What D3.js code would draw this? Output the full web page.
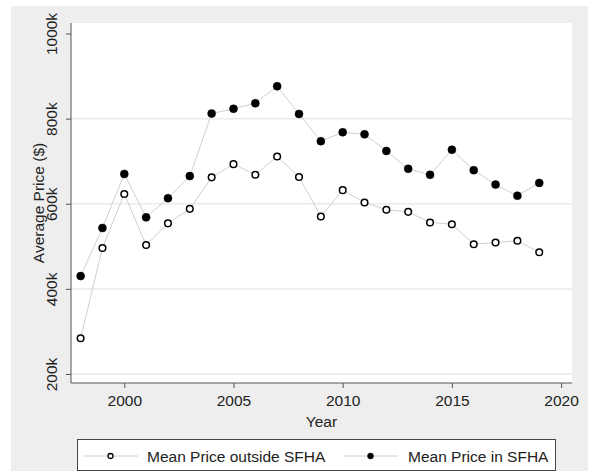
<!DOCTYPE html>
<html>
<head>
<meta charset="utf-8">
<script src="https://cdn.jsdelivr.net/npm/d3@7"></script>
<style>
  body { margin: 0; background: #fff; }
  svg { display: block; font-family: "Liberation Sans", Arial, sans-serif; }
</style>
</head>
<body>
<svg id="chart"></svg>
<script>
const width = 593;
const height = 471;

// values, in $1000s
const years = [1998,1999,2000,2001,2002,2003,2004,2005,2006,2007,2008,2009,2010,2011,2012,2013,2014,2015,2016,2017,2018,2019];
const outsideSFHA = [284,496,623,503,554,588,662,693,668,711,663,570,632,603,586,581,556,552,505,509,513,486];
const inSFHA = [430,543,670,568,613,665,812,823,836,876,811,747,768,763,724,682,668,727,679,645,619,649];
const yTicks = [200,400,600,800,1000];
const xTicks = [2000,2005,2010,2015,2020];
const seriesNames = ["Mean Price outside SFHA", "Mean Price in SFHA"];

const plot = {left: 71, right: 572, top: 23, bottom: 383};
const fs = 15.5;

var svg = d3.select("#chart").attr("width", width).attr("height", height);

// gray outer panel
svg.append("rect").attr("x", 11).attr("y", 6).attr("width", 577).attr("height", height - 6).attr("fill", "#eeeeee");
svg.append("rect").attr("x", plot.left).attr("y", plot.top)
  .attr("width", plot.right - plot.left).attr("height", plot.bottom - plot.top).attr("fill", "#fff");

var x = d3.scaleLinear().domain([1997.56, 2020.5]).range([plot.left, plot.right]);
var y = d3.scaleLinear().domain([200, 1000]).range([374, 33.5]);

// gridlines
svg.append("g").selectAll("line")
  .data(yTicks.filter(d => d < 1000))
  .enter().append("line")
  .attr("x1", plot.left).attr("x2", plot.right)
  .attr("y1", d => y(d)).attr("y2", d => y(d))
  .attr("stroke", "#eaeaea").attr("stroke-width", 1.5);

// y axis
var yAxis = svg.append("g").attr("transform", `translate(${plot.left},0)`)
  .call(d3.axisLeft(y).tickValues(yTicks).tickFormat(d => d + "k").tickSize(5).tickPadding(0));
yAxis.select(".domain").attr("d", `M0,${plot.top}V${plot.bottom}`).attr("stroke", "#555");
yAxis.selectAll(".tick line").attr("stroke", "#555");
yAxis.selectAll(".tick text")
  .attr("transform", "translate(-14,0) rotate(-90)")
  .attr("x", 0).attr("dy", 0).attr("text-anchor", "middle")
  .attr("font-size", fs).attr("fill", "#222").attr("font-family", "Liberation Sans, Arial, sans-serif");

// x axis
var xAxis = svg.append("g").attr("transform", `translate(0,${plot.bottom})`)
  .call(d3.axisBottom(x).tickValues(xTicks).tickFormat(d3.format("d")).tickSize(5).tickPadding(7));
xAxis.select(".domain").attr("d", `M${plot.left},0H${plot.right}`).attr("stroke", "#555");
xAxis.selectAll(".tick line").attr("stroke", "#555");
xAxis.selectAll(".tick text").attr("font-size", fs).attr("fill", "#222")
  .attr("font-family", "Liberation Sans, Arial, sans-serif");

svg.append("text").attr("x", (plot.left + plot.right) / 2).attr("y", 427)
  .attr("text-anchor", "middle").attr("font-size", fs).attr("fill", "#222").text("Year");
svg.append("text").attr("transform", `translate(44,${(plot.top + plot.bottom) / 2}) rotate(-90)`)
  .attr("text-anchor", "middle").attr("font-size", fs).attr("fill", "#222").text("Average Price ($)");

var line = d3.line().x((d, i) => x(years[i])).y(d => y(d));

[outsideSFHA, inSFHA].forEach(function(vals, s) {
  svg.append("path").attr("d", line(vals)).attr("fill", "none")
    .attr("stroke", "#d0d0d0").attr("stroke-width", 1);
  svg.append("g").selectAll("circle").data(vals).enter().append("circle")
    .attr("cx", (d, i) => x(years[i])).attr("cy", d => y(d))
    .attr("r", s == 0 ? 3.3 : 4)
    .attr("fill", s == 0 ? "#fff" : "#000")
    .attr("stroke", "#000").attr("stroke-width", s == 0 ? 1.5 : 0.5);
});

// legend
var legend = svg.append("g");
legend.append("rect").attr("x", 77.5).attr("y", 439.5).attr("width", 478).attr("height", 31)
  .attr("fill", "#fff").attr("stroke", "#444").attr("stroke-width", 1);
var legendItems = [{x0: 83, x1: 138, tx: 147}, {x0: 343, x1: 398, tx: 408}];
legendItems.forEach(function(it, s) {
  legend.append("line").attr("x1", it.x0).attr("x2", it.x1).attr("y1", 456).attr("y2", 456)
    .attr("stroke", "#d0d0d0");
  legend.append("circle").attr("cx", (it.x0 + it.x1) / 2).attr("cy", 456)
    .attr("r", s == 0 ? 2.5 : 3)
    .attr("fill", s == 0 ? "#fff" : "#000").attr("stroke", "#000").attr("stroke-width", s == 0 ? 1.3 : 0.5);
  legend.append("text").attr("x", it.tx).attr("y", 461.5).attr("font-size", fs).attr("fill", "#222")
    .text(seriesNames[s]);
});
</script>
</body>
</html>
